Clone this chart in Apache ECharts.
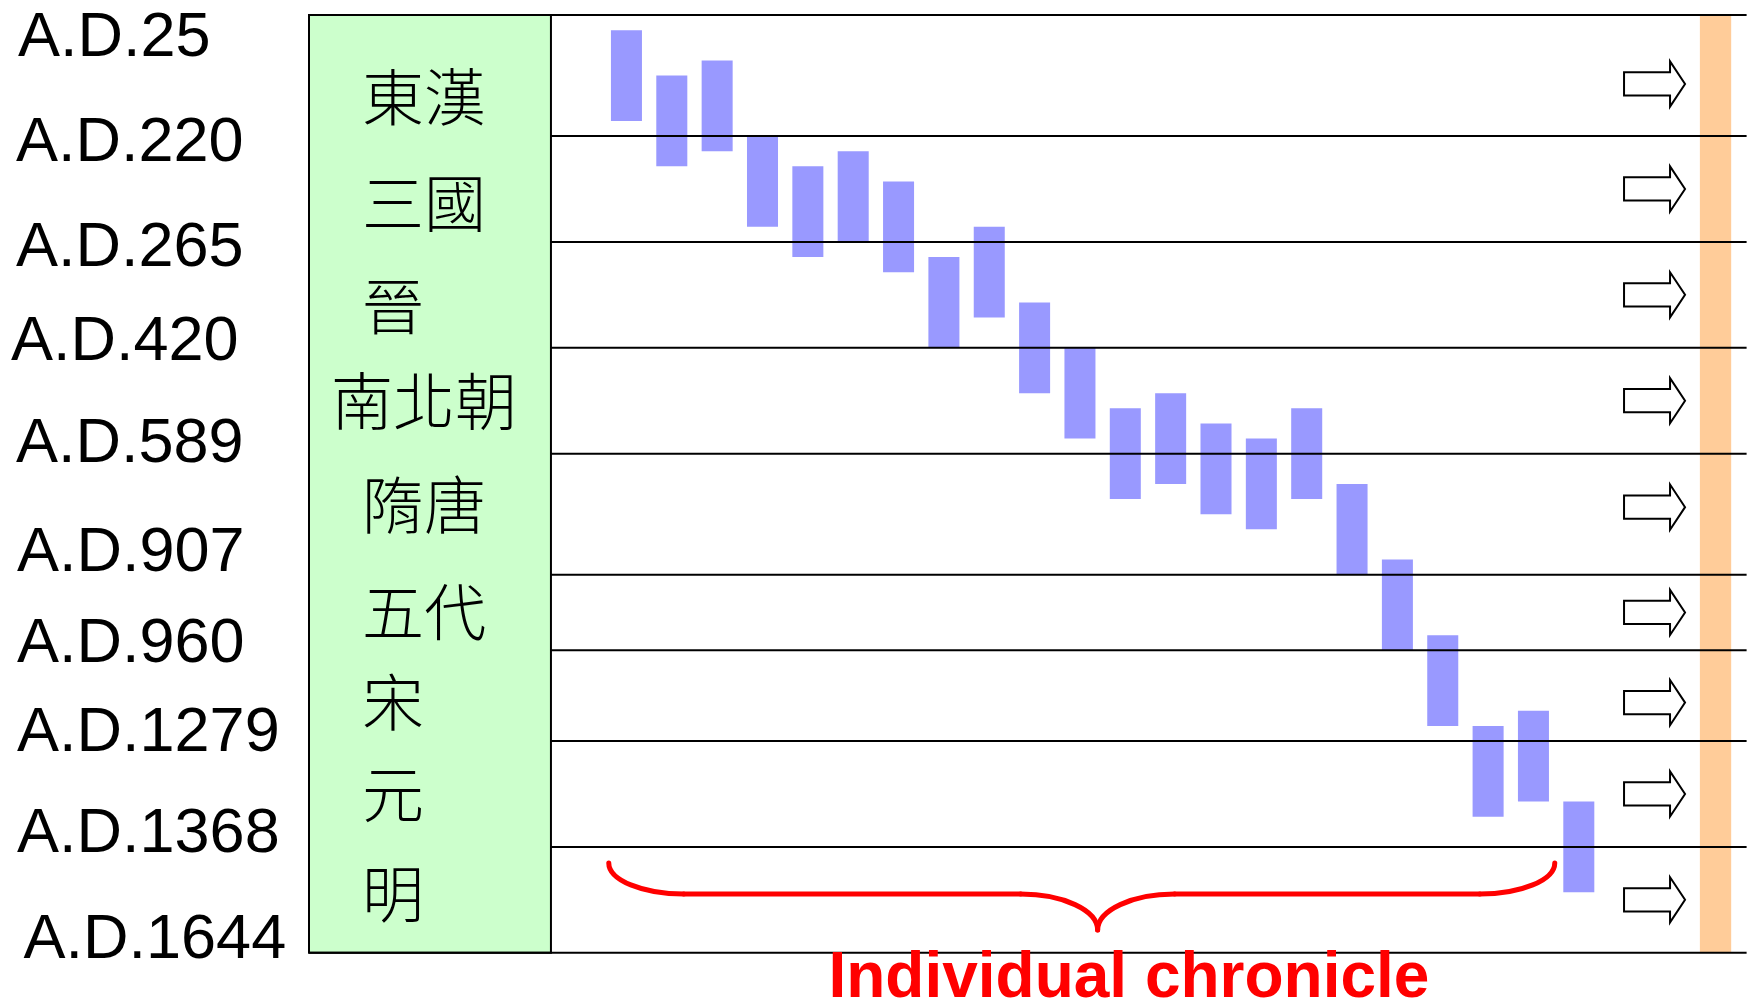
<!DOCTYPE html>
<html>
<head>
<meta charset="utf-8">
<script src="https://cdn.jsdelivr.net/npm/echarts@6/dist/echarts.min.js"></script>
<style>
html,body{margin:0;padding:0;background:#ffffff;}
#chart{width:1753px;height:1002px;}
</style>
</head>
<body>
<div id="chart"></div>
<script>
// ---------------- data ----------------
const yearTicks = ['A.D.25','A.D.220','A.D.265','A.D.420','A.D.589','A.D.907','A.D.960','A.D.1279','A.D.1368','A.D.1644'];
const eraNames = ['東漢','三國','晉','南北朝','隋唐','五代','宋','元','明'];
// era boundaries on the (non-linear) timeline scale, one per year tick
const eraBoundaries = [0, 4, 7.5, 11, 14.5, 18.5, 21, 24, 27.5, 31];
// individual chronicles: start position on the timeline scale, each spanning chronicleSpan
const chronicleStart = [0.5, 2, 1.5, 4, 5, 4.5, 5.5, 8, 7, 9.5, 11, 13, 12.5, 13.5, 14, 13, 15.5, 18, 20.5, 23.5, 23, 26];
const chronicleSpan = 3;
const braceLabel = 'Individual chronicle';

// ---------------- layout (not data) ----------------
const X_MIN = -6, X_MAX = 25.7;
const BOX_RIGHT = -0.665, BOX_CENTER = -3.465;
const ORANGE_FROM = 24.67, ORANGE_TO = 25.36;
const ARROW_X = 23.67;
const BAR_W = 0.684;
const TICK_SHIFT_PX = 5;
const tickNudgeY = [0.63, 0.10, 0.07, -0.33, -0.45, -0.86, -0.36, -0.40, -0.57, -0.56];
const tickNudgeX = [2, 0, 0, -5, 0, 1, 1, 1, 1, 7.5];
const eraNudgeY = [0.73, 0.47, 0.40, 0.01, -0.30, 0, 0.23, 0.02, -0.19];
const arrowNudgeY = [0.28, 0, 0, 0, -0.23, 0, 0.23, 0, 0];
const BRACE = {from: 0.61, to: 21.47, tip: 11.39, yEnd: 28.03, yMid: 29.06, yTip: 30.25, textX: 12.08, textY: 31.88};

const yMax = eraBoundaries[eraBoundaries.length - 1];
const rowMids = eraNames.map((_, i) => (eraBoundaries[i] + eraBoundaries[i + 1]) / 2);

const chart = echarts.init(document.getElementById('chart'), null, {renderer: 'canvas'});

const option = {
  animation: false,
  backgroundColor: '#ffffff',
  grid: {left: 309, right: 6.4, top: 15, bottom: 49.25, outerBoundsMode: 'none', containLabel: false},
  xAxis: {type: 'value', min: X_MIN, max: X_MAX, show: false},
  yAxis: {type: 'value', min: 0, max: yMax, inverse: true, show: false},
  series: [
    // background: label column + orange strip
    {
      type: 'custom', z: 1, clip: false, silent: true,
      data: [[0, 0]],
      renderItem: function (params, api) {
        const g0 = api.coord([X_MIN, 0]);
        const g1 = api.coord([BOX_RIGHT, yMax]);
        const o0 = api.coord([ORANGE_FROM, 0]);
        const o1 = api.coord([ORANGE_TO, yMax]);
        return {
          type: 'group',
          children: [
            {type: 'rect', shape: {x: o0[0], y: o0[1], width: o1[0] - o0[0], height: o1[1] - o0[1]},
             style: {fill: '#ffcc99'}},
            {type: 'rect', shape: {x: g0[0], y: g0[1], width: g1[0] - g0[0], height: g1[1] - g0[1]},
             style: {fill: '#ccffcc', stroke: '#000000', lineWidth: 2}}
          ]
        };
      }
    },
    // individual chronicle bars
    {
      type: 'custom', z: 2, silent: true,
      data: chronicleStart.map((s, i) => [i + 1, s, s + chronicleSpan]),
      renderItem: function (params, api) {
        const x = api.value(0);
        const p0 = api.coord([x - BAR_W / 2, api.value(1)]);
        const p1 = api.coord([x + BAR_W / 2, api.value(2)]);
        return {type: 'rect', shape: {x: p0[0], y: p0[1], width: p1[0] - p0[0], height: p1[1] - p0[1]},
                style: {fill: '#9999ff'}};
      }
    },
    // era boundary lines
    {
      type: 'custom', z: 3, clip: false, silent: true,
      data: eraBoundaries.map((b, i) => [i, b]),
      renderItem: function (params, api) {
        const i = params.dataIndex;
        const outer = (i === 0 || i === eraBoundaries.length - 1);
        const p0 = api.coord([outer ? X_MIN : BOX_RIGHT, api.value(1)]);
        const p1 = api.coord([X_MAX, api.value(1)]);
        return {type: 'line', shape: {x1: p0[0], y1: p0[1], x2: p1[0], y2: p1[1]},
                style: {stroke: '#000000', lineWidth: 2}};
      }
    },
    // block arrows
    {
      type: 'custom', z: 4, silent: true,
      data: rowMids.map((m, i) => [ARROW_X, m + arrowNudgeY[i]]),
      renderItem: function (params, api) {
        const c = api.coord([api.value(0), api.value(1)]);
        const x = c[0], y = c[1];
        const pts = [
          [x - 30.5, y - 11.6], [x + 15.5, y - 11.6], [x + 15.5, y - 22.6], [x + 30.5, y],
          [x + 15.5, y + 22.6], [x + 15.5, y + 11.6], [x - 30.5, y + 11.6]
        ];
        return {type: 'polygon', shape: {points: pts},
                style: {fill: '#ffffff', stroke: '#000000', lineWidth: 2, lineJoin: 'miter'}};
      }
    },
    // era names inside the green column
    {
      type: 'custom', z: 5, clip: false, silent: true,
      data: rowMids.map((m, i) => [BOX_CENTER, m + eraNudgeY[i]]),
      renderItem: function (params, api) {
        const name = eraNames[params.dataIndex];
        const c = api.coord([api.value(0), api.value(1)]);
        const fs = 62;
        const left = c[0] - Math.max(name.length, 2) * fs / 2;
        return {type: 'text', x: left, y: c[1],
                style: {text: name, fill: '#000000', fontSize: fs,
                        fontFamily: '"Noto Sans CJK TC", "Noto Sans CJK SC", sans-serif',
                        fontWeight: 300, align: 'left', verticalAlign: 'middle'}};
      }
    },
    // year tick labels on the left
    {
      type: 'custom', z: 5, clip: false, silent: true,
      data: eraBoundaries.map((b, i) => [X_MIN, b + tickNudgeY[i]]),
      renderItem: function (params, api) {
        const i = params.dataIndex;
        const c = api.coord([api.value(0), api.value(1)]);
        return {type: 'text', x: c[0] - 293 + tickNudgeX[i], y: c[1] + TICK_SHIFT_PX,
                style: {text: yearTicks[i], fill: '#000000', fontSize: 63,
                        fontFamily: '"Liberation Sans", Arial, sans-serif',
                        align: 'left', verticalAlign: 'middle'}};
      }
    },
    // brace + caption
    {
      type: 'custom', z: 6, clip: false, silent: true,
      data: [[BRACE.tip, BRACE.yTip]],
      renderItem: function (params, api) {
        const L = api.coord([BRACE.from, BRACE.yEnd]);
        const R = api.coord([BRACE.to, BRACE.yEnd]);
        const T = api.coord([BRACE.tip, BRACE.yTip]);
        const yM = api.coord([BRACE.from, BRACE.yMid])[1];
        const cw = 75, tw = 77;
        const st = {stroke: '#ff0000', lineWidth: 5, fill: null, lineCap: 'round'};
        const tp = api.coord([BRACE.textX, BRACE.textY]);
        return {
          type: 'group',
          children: [
            {type: 'bezierCurve', shape: {x1: L[0], y1: L[1], cpx1: L[0], cpy1: L[1] + (yM - L[1]) * 0.55,
              cpx2: L[0] + cw * 0.45, cpy2: yM, x2: L[0] + cw, y2: yM}, style: st},
            {type: 'line', shape: {x1: L[0] + cw, y1: yM, x2: T[0] - tw, y2: yM}, style: st},
            {type: 'bezierCurve', shape: {x1: T[0] - tw, y1: yM, cpx1: T[0] - tw * 0.45, cpy1: yM,
              cpx2: T[0], cpy2: T[1] - (T[1] - yM) * 0.55, x2: T[0], y2: T[1]}, style: st},
            {type: 'bezierCurve', shape: {x1: T[0], y1: T[1], cpx1: T[0], cpy1: T[1] - (T[1] - yM) * 0.55,
              cpx2: T[0] + tw * 0.45, cpy2: yM, x2: T[0] + tw, y2: yM}, style: st},
            {type: 'line', shape: {x1: T[0] + tw, y1: yM, x2: R[0] - cw, y2: yM}, style: st},
            {type: 'bezierCurve', shape: {x1: R[0] - cw, y1: yM, cpx1: R[0] - cw * 0.45, cpy1: yM,
              cpx2: R[0], cpy2: R[1] + (yM - R[1]) * 0.55, x2: R[0], y2: R[1]}, style: st},
            {type: 'text', x: tp[0], y: tp[1],
             style: {text: braceLabel, fill: '#ff0000', fontSize: 64, fontWeight: 'bold',
                     fontFamily: '"Liberation Sans", Arial, sans-serif',
                     align: 'center', verticalAlign: 'middle'}}
          ]
        };
      }
    }
  ]
};

chart.setOption(option);
</script>
</body>
</html>
